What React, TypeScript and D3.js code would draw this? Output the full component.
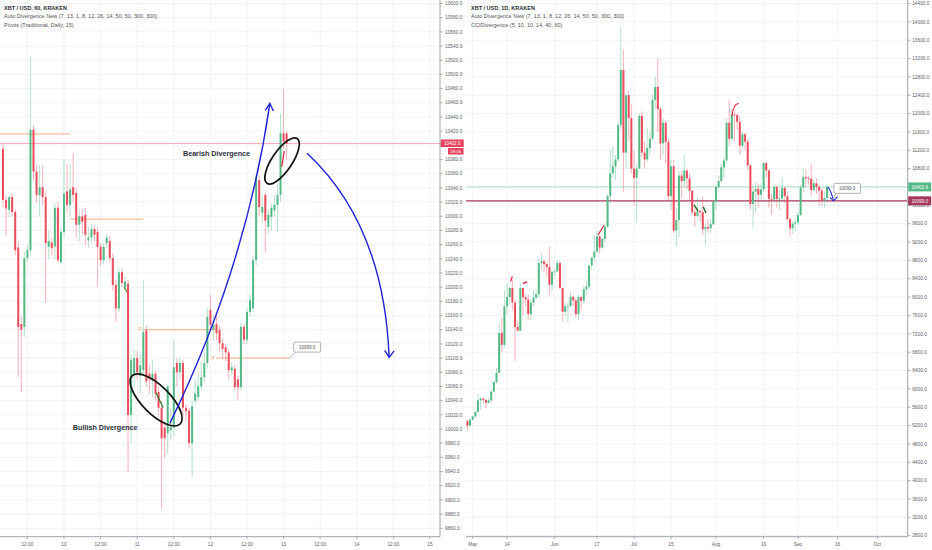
import React from "react";
import * as d3 from "d3";

// ---------------- Left chart: XBT/USD, 60 (hourly), KRAKEN ----------------
const hourlyStartHour = 4; // hours after Sep 9 00:00 of first candle
// [open, high, low, close]
const hourlyOHLC: number[][] = [
  [10395, 10402, 10312, 10323], [10323, 10330, 10273, 10311], [10309, 10330, 10298, 10327], [10327, 10333, 10300, 10306],
  [10306, 10310, 10245, 10252], [10256, 10265, 10073, 10144], [10148, 10160, 10052, 10140], [10144, 10250, 10130, 10241],
  [10241, 10260, 10235, 10252], [10252, 10525, 10245, 10422], [10422, 10428, 10350, 10363], [10363, 10372, 10320, 10330],
  [10330, 10372, 10300, 10341], [10341, 10372, 10315, 10327], [10327, 10335, 10179, 10262], [10257, 10280, 10240, 10265],
  [10263, 10270, 10245, 10255], [10257, 10318, 10240, 10312], [10312, 10320, 10235, 10238], [10235, 10285, 10232, 10278],
  [10278, 10380, 10270, 10332], [10335, 10375, 10305, 10316], [10316, 10375, 10300, 10338], [10341, 10389, 10320, 10330],
  [10333, 10340, 10270, 10288], [10288, 10310, 10265, 10300], [10300, 10310, 10275, 10292], [10302, 10312, 10260, 10274],
  [10266, 10285, 10255, 10270], [10270, 10290, 10262, 10282], [10282, 10286, 10265, 10274], [10278, 10285, 10200, 10257],
  [10257, 10262, 10230, 10238], [10238, 10262, 10232, 10257], [10262, 10275, 10255, 10270], [10265, 10272, 10235, 10241],
  [10241, 10248, 10195, 10203], [10203, 10210, 10151, 10170], [10170, 10228, 10165, 10221], [10221, 10226, 10200, 10206],
  [10200, 10215, 10195, 10208], [10205, 10210, 9939, 10020], [10020, 10105, 9980, 10097], [10078, 10112, 10060, 10100],
  [10100, 10110, 10070, 10080], [10075, 10108, 10050, 10090], [10083, 10210, 10075, 10137], [10139, 10145, 10060, 10067],
  [10078, 10090, 10050, 10070], [10068, 10098, 10045, 10078], [10078, 10082, 10040, 10050], [10052, 10060, 10020, 10030],
  [10030, 10040, 9887, 9987], [10002, 10010, 9960, 9987], [9994, 10062, 9965, 10060], [9998, 10030, 9985, 10003],
  [10002, 10125, 9990, 10087], [10093, 10100, 10060, 10080], [10080, 10100, 10070, 10093], [10093, 10098, 10020, 10030],
  [10030, 10035, 10010, 10025], [10026, 10030, 9972, 9980], [9980, 10040, 9932, 10032], [10040, 10070, 10035, 10050],
  [10045, 10080, 10040, 10060], [10060, 10095, 10055, 10073], [10073, 10110, 10065, 10093], [10093, 10170, 10085, 10158],
  [10168, 10189, 10140, 10147], [10140, 10160, 10125, 10147], [10148, 10160, 10125, 10135], [10140, 10145, 10110, 10121],
  [10121, 10128, 10100, 10113], [10115, 10120, 10095, 10108], [10108, 10112, 10070, 10083], [10083, 10095, 10075, 10087],
  [10085, 10090, 10055, 10059], [10070, 10075, 10040, 10059], [10059, 10150, 10055, 10144], [10144, 10148, 10120, 10126],
  [10126, 10170, 10120, 10165], [10165, 10190, 10160, 10182], [10170, 10245, 10165, 10238], [10238, 10360, 10230, 10355],
  [10351, 10358, 10300, 10313], [10305, 10330, 10290, 10313], [10330, 10335, 10249, 10294], [10285, 10310, 10275, 10302],
  [10299, 10318, 10280, 10312], [10308, 10330, 10300, 10316], [10316, 10345, 10278, 10330], [10330, 10445, 10320, 10417],
  [10417, 10480, 10395, 10405], [10417, 10420, 10380, 10402.6],
];
const leftPriceTicks = d3.range(9860, 10601, 20);
const leftTimeTickHours = [12, 24, 36, 48, 60, 72, 84, 96, 108, 120, 132, 144];
const leftTimeTickLabels = ["12:00", "10", "12:00", "11", "12:00", "12", "12:00", "13", "12:00", "14", "12:00", "15"];
const pivotLevels = [10416, 10296, 10140, 10100];
const pivotStartHours = [2, 26, 50, 74];
const pivotEndHours = [26, 50, 74, 98];
const pivotShowLabel = [false, false, true, true];
const lastPrice = 10402.6;
const countdownText = "28:06";
const alertPrice = 10099.0;
const leftLegend = [
  "XBT / USD, 60, KRAKEN",
  "Auto Divergence New (7, 13, 1, 8, 12, 26, 14, 50, 50, 300, 300)",
  "Pivots (Traditional, Daily, 15)",
];

// ---------------- Right chart: XBT/USD, 1D, KRAKEN ----------------
const dailyStart = [2019, 3, 29]; // Apr 29 2019 (UTC, month 0-based)
const dailyOHLC: number[][] = [
  [5300, 5330, 5080, 5200], [5200, 5350, 5180, 5330],
  // May
  [5330, 5420, 5310, 5400], [5400, 5530, 5380, 5500], [5500, 5900, 5480, 5750], [5750, 5820, 5550, 5790],
  [5790, 5800, 5680, 5760], [5760, 5780, 5580, 5700], [5700, 5800, 5680, 5750], [5750, 5980, 5700, 5940],
  [5940, 6180, 5930, 6150], [6150, 6450, 6100, 6350], [6350, 7450, 6350, 7220], [7220, 7550, 6800, 6960],
  [6960, 8150, 6900, 7800], [7800, 8300, 7630, 8000], [8000, 8250, 7850, 8200], [8200, 8380, 7700, 7880],
  [7880, 7950, 6600, 7350], [7350, 7480, 7250, 7270], [7270, 8300, 7250, 8200], [8200, 8200, 7600, 8000],
  [8000, 8050, 7800, 7950], [7950, 8050, 7500, 7630], [7630, 7950, 7500, 7880], [7880, 8150, 7800, 7990],
  [7990, 8150, 7950, 8060], [8060, 8850, 8000, 8740], [8740, 8950, 8600, 8780], [8780, 8800, 8550, 8720],
  [8720, 8750, 8450, 8660], [8660, 9100, 8050, 8270], [8270, 8580, 8120, 8550],
  // Jun
  [8550, 8620, 8450, 8560], [8560, 8800, 8540, 8740], [8740, 8780, 8150, 8200], [8200, 8200, 7480, 7680],
  [7680, 7880, 7600, 7800], [7800, 7880, 7450, 7810], [7810, 8120, 7780, 8000], [8000, 8050, 7800, 7930],
  [7930, 7950, 7550, 7630], [7630, 8050, 7500, 8000], [8000, 8030, 7700, 7920], [7920, 8250, 7850, 8170],
  [8170, 8350, 8050, 8230], [8230, 8700, 8170, 8690], [8690, 8880, 8600, 8860], [8860, 9350, 8800, 8990],
  [8990, 9450, 8970, 9320], [9320, 9350, 8950, 9080], [9080, 9300, 9050, 9270], [9270, 9600, 9200, 9530],
  [9530, 10250, 9520, 10200], [10200, 11200, 10050, 10700], [10700, 11300, 10600, 10850], [10850, 11100, 10550, 11000],
  [11000, 11800, 10950, 11750], [11750, 13900, 11650, 12950], [12950, 13400, 10300, 11150], [11150, 12400, 10800, 12400],
  [12400, 12500, 11400, 11900], [11900, 12200, 10700, 10800],
  // Jul
  [10800, 11200, 10000, 10600], [10600, 10900, 9650, 10800], [10800, 12000, 10800, 11950], [11950, 12050, 11050, 11150],
  [11150, 11400, 10800, 11000], [11000, 11700, 10950, 11250], [11250, 11600, 11100, 11450], [11450, 12400, 11400, 12300],
  [12300, 12800, 12100, 12580], [12580, 13200, 11600, 12100], [12100, 12150, 11000, 11350], [11350, 11900, 11100, 11800],
  [11800, 11850, 10900, 11380], [11380, 11450, 10100, 10200], [10200, 11000, 9900, 10850], [10850, 11000, 9400, 9450],
  [9450, 9950, 9100, 9680], [9680, 10750, 9300, 10650], [10650, 10750, 10150, 10530], [10530, 11100, 10400, 10760],
  [10760, 10800, 10350, 10590], [10590, 10700, 10100, 10320], [10320, 10330, 9800, 9850], [9850, 9950, 9550, 9770],
  [9770, 10150, 9730, 9880], [9880, 9900, 9650, 9850], [9850, 10200, 9350, 9480], [9480, 9600, 9150, 9530],
  [9530, 9700, 9400, 9500], [9500, 9700, 9400, 9590], [9590, 10120, 9570, 10080],
  // Aug
  [10080, 10450, 9900, 10400], [10400, 10650, 10350, 10530], [10530, 10900, 10500, 10830], [10830, 11050, 10600, 10980],
  [10980, 11900, 10950, 11800], [11800, 12300, 11300, 11450], [11450, 12100, 11400, 11980], [11980, 12050, 11400, 11970],
  [11970, 12000, 11650, 11820], [11820, 11950, 11100, 11300], [11300, 11600, 11250, 11550], [11550, 11580, 11200, 11390],
  [11390, 11450, 10780, 10870], [10870, 10900, 9900, 10030], [10030, 10440, 9500, 10300], [10300, 10500, 9850, 10360],
  [10360, 10460, 9950, 10230], [10230, 10480, 10120, 10350], [10350, 10950, 10300, 10920], [10920, 10950, 10600, 10760],
  [10760, 10780, 9950, 10140], [10140, 10250, 9800, 10130], [10130, 10430, 10060, 10400], [10400, 10420, 9950, 10140],
  [10140, 10350, 9900, 10150], [10150, 10600, 10130, 10380], [10380, 10400, 10050, 10200], [10200, 10300, 9650, 9700],
  [9700, 9720, 9320, 9500], [9500, 9650, 9380, 9600], [9600, 9700, 9450, 9630],
  // Sep
  [9630, 9850, 9580, 9790], [9790, 10450, 9770, 10390], [10390, 10800, 10300, 10620], [10620, 10780, 10400, 10590],
  [10590, 10650, 10450, 10580], [10580, 10920, 10200, 10330], [10330, 10550, 10320, 10480], [10480, 10600, 10250, 10400],
  [10400, 10460, 10000, 10320], [10320, 10380, 10000, 10100], [10100, 10300, 9950, 10160], [10160, 10450, 10050, 10402.6],
];
const rightPriceTicks = d3.range(2800, 14401, 400);
const rightTimeTickDates = [
  [2019, 4, 1], [2019, 4, 14], [2019, 5, 1], [2019, 5, 17], [2019, 6, 1], [2019, 6, 15],
  [2019, 7, 1], [2019, 7, 19], [2019, 8, 1], [2019, 8, 16], [2019, 9, 1],
];
const rightTimeTickLabels = ["May", "14", "Jun", "17", "Jul", "15", "Aug", "19", "Sep", "16", "Oct"];
const rightLegend = [
  "XBT / USD, 1D, KRAKEN",
  "Auto Divergence New (7, 13, 1, 8, 12, 26, 14, 50, 50, 300, 300)",
  "CCIDivergence (5, 10, 10, 14, 40, 60)",
];

// ---------------- styles ----------------
const UP = "#53b987";
const DOWN = "#eb4d5c";
const GRID = "#eef0f4";
const AXIS = "#9598a1";
const LABEL = "#5d606b";
const BLUE = "#1f22d6";
const FONT = "'Liberation Sans', Arial, sans-serif";

const utc = (a: number[]) => new Date(Date.UTC(a[0], a[1], a[2]));

function Candles({ data, xs, y, w }: { data: number[][]; xs: number[]; y: (v: number) => number; w: number }) {
  return (
    <g>
      {data.map((d, i) => {
        const [o, h, l, c] = d;
        const col = c >= o ? UP : DOWN;
        const top = y(Math.max(o, c));
        const bh = Math.max(0.9, Math.abs(y(o) - y(c)));
        return (
          <g key={i}>
            <line x1={xs[i]} x2={xs[i]} y1={y(h)} y2={y(l)} stroke={col} strokeWidth={0.8} strokeOpacity={0.55} />
            <rect x={xs[i] - w / 2} y={top} width={w} height={bh} fill={col} />
          </g>
        );
      })}
    </g>
  );
}

export default function App() {
  const W = 932;
  const H = 550;
  const axisY = 536.7;

  // left scales
  const xL = d3.scaleLinear().domain([24, 144]).range([64, 430]);
  const yL = d3.scaleLinear().domain([9860, 10600]).range([528.3, 3.5]);
  const leftAxisX = 440;
  // right scales
  const xR = d3.scaleUtc().domain([new Date(Date.UTC(2019, 4, 1)), new Date(Date.UTC(2019, 9, 1))]).range([472.7, 877.3]);
  const yR = d3.scaleLinear().domain([2800, 14400]).range([535.7, 3.5]);
  const rightAxisX = 907.7;

  const xsL = hourlyOHLC.map((_, i) => xL(hourlyStartHour + i));
  const xsR = dailyOHLC.map((_, i) => xR(utc([dailyStart[0], dailyStart[1], dailyStart[2] + i])));
  const dayR = (d: number) => xR(new Date(Date.UTC(2019, 4, 1) + d * 86400000));

  // annotation anchors (data space)
  const arrow1 = [xL(58.7), yL(10008), xL(83.7), yL(10228), xL(91.5), yL(10459)];
  const arrow2 = [xL(103.7), yL(10389), xL(128.9), yL(10288), xL(130.6), yL(10101)];
  const bearC = [xL(95.5), yL(10378)];
  const bullC = [xL(54.2), yL(10041)];
  const pivot4End = [xL(pivotEndHours[3]), yL(pivotLevels[3])];
  const rAlertX = dayR(134.9);
  const rAlertY = yR(alertPrice);

  const fmt = (v: number) => v.toFixed(1);

  // hide axis labels fully covered by price boxes
  const leftVisibleTicks = leftPriceTicks.filter((p) => Math.abs(yL(p) - yL(lastPrice)) > 6);
  const rightVisibleTicks = rightPriceTicks.filter(
    (p) => Math.abs(yR(p) - yR(lastPrice)) > 6 && Math.abs(yR(p) - yR(alertPrice)) > 4.5
  );

  return (
    <svg width={W} height={H} style={{ position: "absolute", left: 0, top: 0, background: "#fff" }} fontFamily={FONT}>
      <defs>
        <clipPath id="clipL"><rect x={0} y={0} width={leftAxisX} height={axisY} /></clipPath>
        <clipPath id="clipR"><rect x={466} y={0} width={rightAxisX - 466} height={axisY} /></clipPath>
      </defs>
      <rect x={0} y={0} width={W} height={H} fill="#fff" />

      {/* ---------- LEFT PANEL ---------- */}
      <g clipPath="url(#clipL)">
        {leftPriceTicks.map((p) => (
          <line key={p} x1={0} x2={leftAxisX} y1={yL(p)} y2={yL(p)} stroke={GRID} strokeWidth={0.8} />
        ))}
        {leftTimeTickHours.map((h) => (
          <line key={h} x1={xL(h)} x2={xL(h)} y1={0} y2={axisY} stroke={GRID} strokeWidth={0.8} />
        ))}
        {/* pivots */}
        {pivotLevels.map((p, i) => (
          <g key={i}>
            <line x1={xL(pivotStartHours[i])} x2={xL(pivotEndHours[i])} y1={yL(p)} y2={yL(p)} stroke="#f0a572" strokeWidth={0.9} />
            {pivotShowLabel[i] && (
              <text x={xL(pivotStartHours[i]) - 2} y={yL(p) + 1.6} fontSize={4.5} fill="#f0a572" textAnchor="end">P</text>
            )}
          </g>
        ))}
        {/* last price line */}
        <line x1={0} x2={leftAxisX} y1={yL(lastPrice)} y2={yL(lastPrice)} stroke="#f4a6b3" strokeWidth={0.9} />
        <Candles data={hourlyOHLC} xs={xsL} y={yL} w={2} />
        {/* divergence marks */}
        <line x1={xL(54.2)} y1={yL(10051)} x2={xL(56.5)} y2={yL(10030)} stroke="#2e7d32" strokeWidth={1.3} />
        <line x1={xL(43.7)} y1={yL(10200)} x2={xL(44.7)} y2={yL(10193)} stroke="#6b8e23" strokeWidth={1.2} />
        <line x1={xL(95.4)} y1={yL(10370)} x2={xL(96.2)} y2={yL(10392)} stroke="#e8283f" strokeWidth={1.3} />
        {/* ellipses */}
        <ellipse cx={bearC[0]} cy={bearC[1]} rx={27} ry={10} fill="none" stroke="#111" strokeWidth={1.7}
          transform={`rotate(-56 ${bearC[0]} ${bearC[1]})`} />
        <ellipse cx={bullC[0]} cy={bullC[1]} rx={34} ry={14} fill="none" stroke="#111" strokeWidth={1.7}
          transform={`rotate(45 ${bullC[0]} ${bullC[1]})`} />
        {/* blue arrows */}
        <path d={`M${arrow1[0]},${arrow1[1]} Q${arrow1[2]},${arrow1[3]} ${arrow1[4]},${arrow1[5]}`} fill="none" stroke={BLUE} strokeWidth={1.4} />
        <path d={`M${arrow1[4] - 4.5},${arrow1[5] + 7} L${arrow1[4]},${arrow1[5]} L${arrow1[4] + 3.5},${arrow1[5] + 7.5}`} fill="none" stroke={BLUE} strokeWidth={1.4} />
        <path d={`M${arrow2[0]},${arrow2[1]} Q${arrow2[2]},${arrow2[3]} ${arrow2[4]},${arrow2[5]}`} fill="none" stroke={BLUE} strokeWidth={1.4} />
        <path d={`M${arrow2[4] - 4.5},${arrow2[5] - 7} L${arrow2[4]},${arrow2[5]} L${arrow2[4] + 5},${arrow2[5] - 6.5}`} fill="none" stroke={BLUE} strokeWidth={1.4} />
        {/* labels */}
        <text x={xL(63)} y={yL(10385)} fontSize={7.2} fontWeight="bold" fill="#2a2e39">Bearish Divergence</text>
        <text x={xL(26.9)} y={yL(9999)} fontSize={7.2} fontWeight="bold" fill="#2a2e39">Bullish Divergence</text>
        {/* alert callout */}
        <path d={`M${pivot4End[0]},${pivot4End[1]} L${pivot4End[0] + 6},${pivot4End[1] - 6.5}`} stroke="#9a9ca3" strokeWidth={0.8} />
        <rect x={pivot4End[0] + 4} y={pivot4End[1] - 16} width={27} height={10} rx={1.5} fill="#fff" stroke="#9a9ca3" strokeWidth={0.8} />
        <text x={pivot4End[0] + 17.5} y={pivot4End[1] - 9.3} fontSize={4.5} fill="#555" textAnchor="middle">{fmt(alertPrice)}</text>
      </g>

      {/* left legend */}
      {leftLegend.map((t, i) => (
        <text key={i} x={4} y={9.5 + i * 8.5} fontSize={5.5} fill={i === 0 ? "#2a2e39" : "#555"} fontWeight={i === 0 ? 600 : 400}>{t}</text>
      ))}

      {/* left axes */}
      <line x1={leftAxisX} x2={leftAxisX} y1={0} y2={axisY} stroke={AXIS} strokeWidth={0.9} />
      <line x1={0} x2={leftAxisX} y1={axisY} y2={axisY} stroke={AXIS} strokeWidth={0.9} />
      {leftPriceTicks.map((p) => (
        <line key={p} x1={leftAxisX} x2={leftAxisX + 3} y1={yL(p)} y2={yL(p)} stroke={AXIS} strokeWidth={0.7} />
      ))}
      {leftVisibleTicks.map((p) => (
        <text key={p} x={leftAxisX + 5} y={yL(p) + 1.7} fontSize={4.8} fill={LABEL}>{fmt(p)}</text>
      ))}
      {leftTimeTickHours.map((h, i) => (
        <g key={h}>
          <line x1={xL(h)} x2={xL(h)} y1={axisY} y2={axisY + 2.5} stroke={AXIS} strokeWidth={0.7} />
          <text x={xL(h)} y={545.8} fontSize={4.8} fill={LABEL} textAnchor="middle">{leftTimeTickLabels[i]}</text>
        </g>
      ))}
      <rect x={leftAxisX + 0.7} y={yL(lastPrice) - 4} width={23} height={7.5} fill="#e8425e" />
      <text x={leftAxisX + 12.2} y={yL(lastPrice) + 1.6} fontSize={4.6} fill="#fff" textAnchor="middle">{fmt(lastPrice)}</text>
      <rect x={leftAxisX + 8} y={yL(lastPrice) + 4.5} width={15.5} height={6.5} fill="#e8425e" />
      <text x={leftAxisX + 15.7} y={yL(lastPrice) + 9.4} fontSize={4.4} fill="#fff" textAnchor="middle">{countdownText}</text>

      {/* ---------- RIGHT PANEL ---------- */}
      <g clipPath="url(#clipR)">
        {rightPriceTicks.map((p) => (
          <line key={p} x1={466} x2={rightAxisX} y1={yR(p)} y2={yR(p)} stroke={GRID} strokeWidth={0.8} />
        ))}
        {rightTimeTickDates.map((d, i) => (
          <line key={i} x1={xR(utc(d))} x2={xR(utc(d))} y1={0} y2={axisY} stroke={GRID} strokeWidth={0.8} />
        ))}
        <line x1={466} x2={rightAxisX} y1={yR(lastPrice)} y2={yR(lastPrice)} stroke="#a8dcc0" strokeWidth={0.9} />
        <line x1={466} x2={rightAxisX} y1={yR(alertPrice)} y2={yR(alertPrice)} stroke="#a3365a" strokeWidth={1.3} />
        <Candles data={dailyOHLC} xs={xsR} y={yR} w={2} />
        {/* divergence marks */}
        <path d={`M${dayR(98)},${yR(11950)} Q${dayR(98.8)},${yR(12230)} ${dayR(100.6)},${yR(12220)}`} fill="none" stroke="#e8283f" strokeWidth={1.2} />
        <line x1={dayR(14.3)} y1={yR(8340)} x2={dayR(15)} y2={yR(8450)} stroke="#e8283f" strokeWidth={1.2} />
        <line x1={dayR(19)} y1={yR(8300)} x2={dayR(20.6)} y2={yR(8330)} stroke="#e8283f" strokeWidth={1.4} />
        <line x1={dayR(47.4)} y1={yR(9354)} x2={dayR(49.7)} y2={yR(9571)} stroke="#e8283f" strokeWidth={1.2} />
        <line x1={dayR(83.7)} y1={yR(10010)} x2={dayR(85.2)} y2={yR(9880)} stroke="#1b5e20" strokeWidth={1.3} />
        <line x1={dayR(87.2)} y1={yR(9967)} x2={dayR(88.2)} y2={yR(9836)} stroke="#1b5e20" strokeWidth={1.3} />
        {/* blue arrow */}
        <path d={`M${rAlertX - 1.5},${yR(10400)} Q${rAlertX + 2},${yR(10300)} ${rAlertX + 4},${rAlertY}`} fill="none" stroke={BLUE} strokeWidth={1.1} />
        <path d={`M${rAlertX + 0.5},${rAlertY - 3.5} L${rAlertX + 4},${rAlertY} L${rAlertX + 8},${rAlertY - 4}`} fill="none" stroke={BLUE} strokeWidth={1.1} />
        {/* alert callout */}
        <path d={`M${rAlertX + 3},${rAlertY - 1} L${rAlertX + 6.5},${rAlertY - 7.5}`} stroke="#9a9ca3" strokeWidth={0.8} />
        <rect x={rAlertX + 4.5} y={rAlertY - 17.5} width={26.5} height={10} rx={1.5} fill="#fff" stroke="#9a9ca3" strokeWidth={0.8} />
        <text x={rAlertX + 17.7} y={rAlertY - 10.8} fontSize={4.5} fill="#555" textAnchor="middle">{fmt(alertPrice)}</text>
      </g>

      {/* right legend */}
      {rightLegend.map((t, i) => (
        <text key={i} x={471} y={9.5 + i * 8.5} fontSize={5.5} fill={i === 0 ? "#2a2e39" : "#555"} fontWeight={i === 0 ? 600 : 400}>{t}</text>
      ))}

      {/* right axes */}
      <line x1={rightAxisX} x2={rightAxisX} y1={0} y2={axisY} stroke={AXIS} strokeWidth={0.9} />
      <line x1={466} x2={rightAxisX} y1={axisY} y2={axisY} stroke={AXIS} strokeWidth={0.9} />
      {rightPriceTicks.map((p) => (
        <line key={p} x1={rightAxisX} x2={rightAxisX + 3} y1={yR(p)} y2={yR(p)} stroke={AXIS} strokeWidth={0.7} />
      ))}
      {rightVisibleTicks.map((p) => (
        <text key={p} x={rightAxisX + 4.5} y={yR(p) + 1.7} fontSize={4.8} fill={LABEL}>{fmt(p)}</text>
      ))}
      {rightTimeTickDates.map((d, i) => (
        <g key={i}>
          <line x1={xR(utc(d))} x2={xR(utc(d))} y1={axisY} y2={axisY + 2.5} stroke={AXIS} strokeWidth={0.7} />
          <text x={xR(utc(d))} y={545.8} fontSize={4.8} fill={LABEL} textAnchor="middle">{rightTimeTickLabels[i]}</text>
        </g>
      ))}
      <rect x={rightAxisX + 0.5} y={yR(lastPrice) - 4.5} width={23} height={9} fill="#53b987" />
      <text x={rightAxisX + 12} y={yR(lastPrice) + 1.7} fontSize={4.6} fill="#fff" textAnchor="middle">{fmt(lastPrice)}</text>
      <rect x={rightAxisX + 0.5} y={yR(alertPrice) - 4.5} width={23} height={9} fill="#a3365a" />
      <text x={rightAxisX + 12} y={yR(alertPrice) + 1.7} fontSize={4.6} fill="#fff" textAnchor="middle">{fmt(alertPrice)}</text>
    </svg>
  );
}
